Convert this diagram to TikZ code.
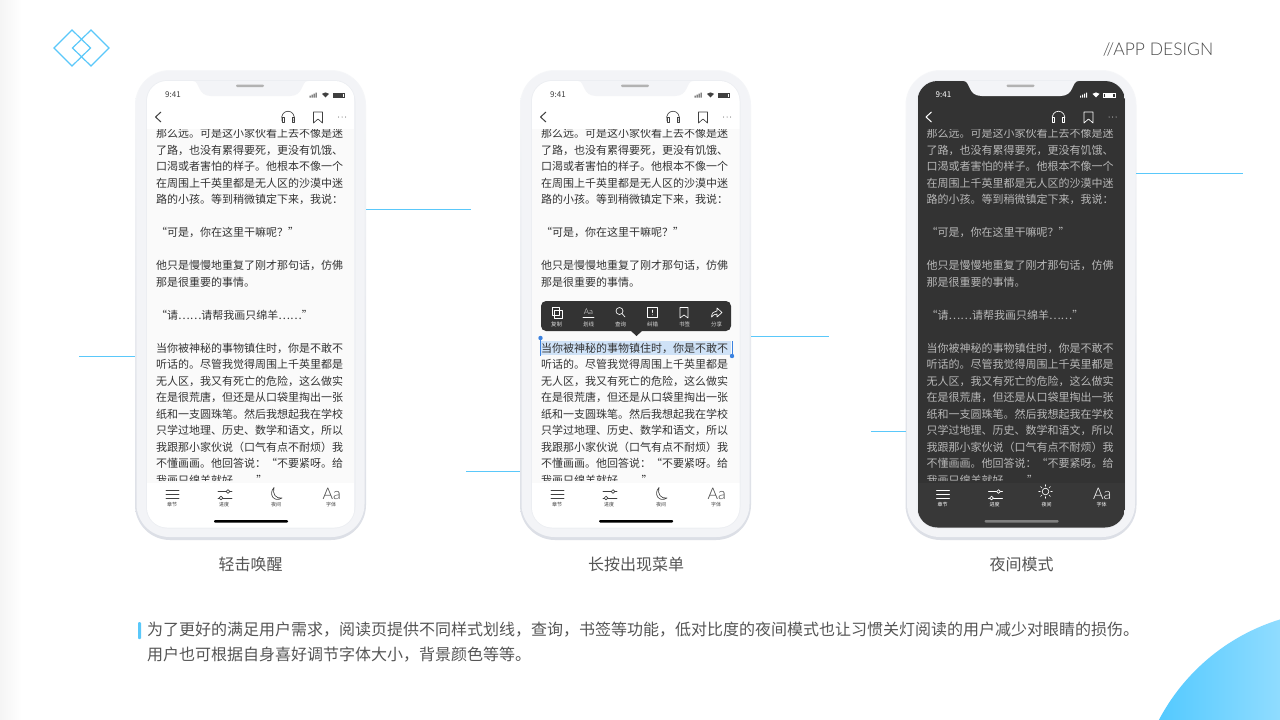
\documentclass[tikz,border=0pt]{standalone}
\usepackage{fontspec}
\setmainfont{Noto Sans CJK SC}
\newfontfamily\latinfont[UprightFont=* Light]{Lato}

\definecolor{skyline}{HTML}{5AC8FA}
\definecolor{cornerleft}{HTML}{4FC8FF}
\definecolor{cornerright}{HTML}{90DCFF}
\definecolor{bezel}{HTML}{F3F4F7}
\definecolor{bezeltop}{HTML}{F6F7F9}
\definecolor{bezelbottom}{HTML}{DCDFE6}
\definecolor{bezelring}{HTML}{ECEEF2}
\definecolor{pagelight}{HTML}{FAFAFA}
\definecolor{pagedark}{HTML}{333333}
\definecolor{tabdark}{HTML}{383838}
\definecolor{inklight}{HTML}{333333}
\definecolor{inkdark}{HTML}{B8B8B8}
\definecolor{iconlight}{HTML}{404040}
\definecolor{captionink}{HTML}{555555}
\definecolor{selectblue}{HTML}{3B82E0}
\definecolor{selectfill}{HTML}{CFE2F7}

\tikzset{
	rule/.style={skyline,line width=1pt},
	readtext/.style={anchor=north west,inner sep=0pt,align=left,font=\fontsize{11}{16.5}\selectfont},
	caption/.style={inner sep=0pt,text=captionink,font=\fontsize{16}{20}\selectfont},
	tablabel/.style={inner sep=0pt,font=\fontsize{5}{6}\selectfont},
	barlabel/.style={inner sep=0pt,text=white!85!black,font=\fontsize{5.5}{6}\selectfont},
	icon/.style={line width=0.65pt,line cap=round,line join=round},
	handle/.style={selectblue,line width=1pt}
}

\begin{document}
\begin{tikzpicture}[x=1pt,y=-1pt]
	\useasboundingbox (0,0) rectangle (1280,720);
	\fill[white] (0,0) rectangle (1280,720);
	\shade[left color=black!4,right color=white] (0,0) rectangle (22,720);
	% corner
	\begin{scope}
		\clip (1340,815) circle[radius=204.5];
		\shade[left color=cornerleft,right color=cornerright] (1150,610) rectangle (1280,720);
	\end{scope}
	% logo
	\draw[skyline,line width=1.2pt] (54,48) -- (72,30) -- (90.5,48) -- (72,66) -- cycle;
	\draw[skyline,line width=1.2pt] (72.5,48) -- (91,30) -- (109,48) -- (91,66) -- cycle;
	\node[inner sep=0pt,text=black!70,font=\latinfont\fontsize{17.5}{20}\selectfont] (title) at (1158,49.5) {//APP DESIGN};
	% phones
	\foreach \n/\dx/\scr/\bar/\tab/\ink/\home/\stat/\sel/\plea in {
		a/0/pagelight/white/white/inklight/black/iconlight/pagelight/{“请……请帮我画只绵羊……”},
		b/385/pagelight/white/white/inklight/black/iconlight/selectfill/{},
		c/770.5/pagedark/pagedark/tabdark/inkdark/black!50/white/pagedark/{“请……请帮我画只绵羊……”}}{
	\begin{scope}[xshift=\dx pt]
		\shade[top color=bezeltop,bottom color=bezelbottom,rounded corners=35pt] (135,70) rectangle (366,540);
		\fill[bezel,rounded corners=33pt] (136.5,71) rectangle (364.5,537);
		\draw[bezelring,line width=1pt,rounded corners=21pt] (146.5,80.5) rectangle (355,528);
		% screen
		\begin{scope}
			\clip[rounded corners=20pt] (147,81) rectangle (354.5,527.5);
			\fill[\bar] (147,81) rectangle (354.5,129);
			\fill[\tab] (147,483) rectangle (354.5,527.5);
			\fill[\scr] (147,129) rectangle (354.5,483);
			\fill[\sel] (156,341) rectangle (346,355);
		\end{scope}
		\fill[bezel] (193,81) .. controls (200,81) and (197,96) .. (211,96) -- (290,96) .. controls (304,96) and (301,81) .. (308,81) -- cycle;
		\fill[black!30,rounded corners=1.2pt] (236,84.5) rectangle (264,87);
		% status
		\node[inner sep=0pt,text=\stat,font=\fontsize{8}{9}\selectfont] (\n time) at (173,94.5) {9:41};
		\fill[\stat] (309.5,95.5) rectangle (310.5,97.5) (311.5,94.5) rectangle (312.5,97.5) (313.5,93.5) rectangle (314.5,97.5) (315.5,92.5) rectangle (316.5,97.5);
		\fill[\stat] (325.5,97.5) -- (322,93.8) .. controls (324,92) and (327,92) .. (329,93.8) -- cycle;
		\draw[\stat,line width=0.4pt] (333,93) rectangle (344.5,97.5);
		\fill[\stat] (334,94) rectangle (342.5,96.5);
		% top bar
		\draw[\stat,line width=1pt,line join=round] (161,112) -- (155.5,117) -- (161,122);
		\draw[\stat,icon] (282,121) .. controls (279,108) and (297,108) .. (294,121);
		\draw[\stat,icon] (282,117) rectangle (284,122);
		\draw[\stat,icon] (292,117) rectangle (294,122);
		\draw[\stat,icon] (313.5,112) -- (322.5,112) -- (322.5,123) -- (318,119) -- (313.5,123) -- cycle;
		\fill[\stat] (338.5,117) circle[radius=0.5] (342,117) circle[radius=0.5] (345.5,117) circle[radius=0.5];
		% reading text
		\begin{scope}
			\clip (147,129.5) rectangle (354.5,480.5);
			\node[readtext,text=\ink] (\n text) at (156,128) {那么远。可是这小家伙看上去不像是迷\\
				了路，也没有累得要死，更没有饥饿、\\
				口渴或者害怕的样子。他根本不像一个\\
				在周围上千英里都是无人区的沙漠中迷\\
				路的小孩。等到稍微镇定下来，我说：\\[16.5pt]
				“可是，你在这里干嘛呢？”\\[16.5pt]
				他只是慢慢地重复了刚才那句话，仿佛\\
				那是很重要的事情。\\[16.5pt]
				\plea\\[16.5pt]
				当你被神秘的事物镇住时，你是不敢不\\
				听话的。尽管我觉得周围上千英里都是\\
				无人区，我又有死亡的危险，这么做实\\
				在是很荒唐，但还是从口袋里掏出一张\\
				纸和一支圆珠笔。然后我想起我在学校\\
				只学过地理、历史、数学和语文，所以\\
				我跟那小家伙说（口气有点不耐烦）我\\
				不懂画画。他回答说：“不要紧呀。给\\
				我画只绵羊就好……”};
		\end{scope}
		% tab bar
		\draw[\stat,icon] (166,490.5) -- (179,490.5) (166,494.5) -- (179,494.5) (166,498.5) -- (179,498.5);
		\draw[\stat,icon] (218,491.5) -- (226,491.5) (230,491.5) -- (232,491.5) (218,498) -- (219,498) (223,498) -- (232,498);
		\draw[\stat,icon] (228,491.5) circle[radius=1.8] (221,498) circle[radius=1.8];
		\node[inner sep=0pt,text=\stat,font=\latinfont\fontsize{16}{17}\selectfont] (\n font) at (331.8,494) {Aa};
		\node[tablabel,text=\stat] (\n tab1) at (172,505) {章节};
		\node[tablabel,text=\stat] (\n tab2) at (224,505) {进度};
		\node[tablabel,text=\stat] (\n tab3) at (276,505) {夜间};
		\node[tablabel,text=\stat] (\n tab4) at (331,505) {字体};
		\fill[\home,rounded corners=1pt] (214,520) rectangle (288,522.5);
	\end{scope}}
	% moon
	\draw[iconlight,icon] (274,487.5) .. controls (268,494) and (274,503) .. (282,498) .. controls (276,499) and (272,494) .. (274,487.5);
	\draw[iconlight,icon] (659,487.5) .. controls (653,494) and (659,503) .. (667,498) .. controls (661,499) and (657,494) .. (659,487.5);
	% sun
	\draw[white,icon] (1045.5,491.5) circle[radius=3.3];
	\foreach \a in {0,45,...,315}
		\draw[white,icon] (1045.5,491.5) ++(\a:5.2) -- ++(\a:1.6);
	% menu
	\fill[pagedark,rounded corners=5pt] (541,301) rectangle (731,331);
	\fill[pagedark] (631,331) -- (636.5,336) -- (642,331) -- cycle;
	\draw[white,icon] (552,307.5) rectangle (559,315) (554.5,310) rectangle (562,318);
	\node[inner sep=0pt,text=white,font=\latinfont\fontsize{8}{9}\selectfont] (menuaa) at (588.5,312) {Aa};
	\draw[white,icon] (583,317.5) -- (594,317.5);
	\draw[white,icon] (619.5,311) circle[radius=3.5] (622,313.5) -- (625,317);
	\draw[white,icon] (647,307.5) rectangle (657.5,317) (652.2,310) -- (652.2,312.5) (652.2,314.8) -- (652.2,314.9);
	\draw[white,icon] (680,307.5) -- (688,307.5) -- (688,318) -- (684,315) -- (680,318) -- cycle;
	\draw[white,icon] (711.5,317) .. controls (711.5,313) and (714,311) .. (717,311) -- (717,308) -- (722,312.5) -- (717,317) -- (717,314) .. controls (715,314) and (713,315) .. (711.5,317);
	\node[barlabel] (menu1) at (556.5,324) {复制};
	\node[barlabel] (menu2) at (588.5,324) {划线};
	\node[barlabel] (menu3) at (620.5,324) {查询};
	\node[barlabel] (menu4) at (652.5,324) {纠错};
	\node[barlabel] (menu5) at (684.5,324) {书签};
	\node[barlabel] (menu6) at (716.5,324) {分享};
	% handles
	\draw[handle] (540.5,338) -- (540.5,356);
	\fill[selectblue] (540.5,338) circle[radius=2.2];
	\draw[handle] (732,341) -- (732,356);
	\fill[selectblue] (732,356) circle[radius=2.2];
	% rules
	\coordinate (r1) at (366,209.5);
	\coordinate (r2) at (471,209.5);
	\coordinate (l1) at (79,356.5);
	\coordinate (l2) at (135,356.5);
	\coordinate (r3) at (751,336.5);
	\coordinate (r4) at (829,336.5);
	\coordinate (l3) at (466,471.5);
	\coordinate (l4) at (520,471.5);
	\coordinate (r5) at (1136,173.5);
	\coordinate (r6) at (1243,173.5);
	\coordinate (l5) at (871,431.5);
	\coordinate (l6) at (906,431.5);
	\draw[rule] (r1) -- (r2);
	\draw[rule] (l1) -- (l2);
	\draw[rule] (r3) -- (r4);
	\draw[rule] (l3) -- (l4);
	\draw[rule] (r5) -- (r6);
	\draw[rule] (l5) -- (l6);
	% captions
	\node[caption] (cap1) at (250.5,564) {轻击唤醒};
	\node[caption] (cap2) at (636,564) {长按出现菜单};
	\node[caption] (cap3) at (1021.5,564) {夜间模式};
	% note
	\fill[skyline,rounded corners=1pt] (138,622) rectangle (141,639);
	\node[caption,anchor=west] (note1) at (147,630) {为了更好的满足用户需求，阅读页提供不同样式划线，查询，书签等功能，低对比度的夜间模式也让习惯关灯阅读的用户减少对眼睛的损伤。};
	\node[caption,anchor=west] (note2) at (147,655) {用户也可根据自身喜好调节字体大小，背景颜色等等。};
\end{tikzpicture}
\end{document}
